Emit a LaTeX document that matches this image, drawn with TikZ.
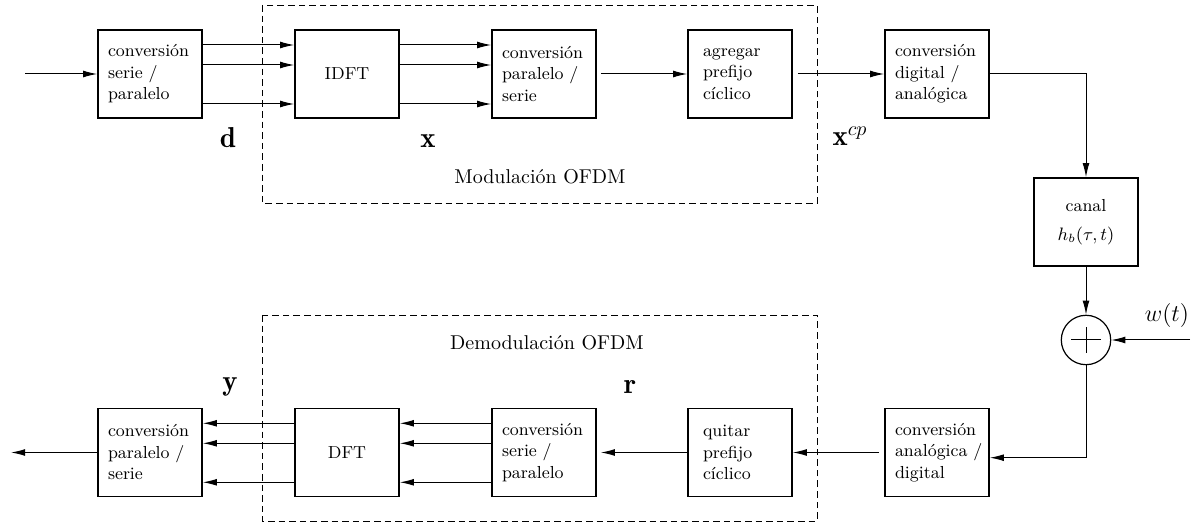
\documentclass[tikz,border=0pt]{standalone}
\usepackage{fontspec}
\usetikzlibrary{arrows.meta}
\begin{document}
\begin{tikzpicture}[x=0.5pt,y=-0.5pt,
  blk/.style={draw, line width=0.8pt, minimum width=52pt, minimum height=44pt,
    inner xsep=5pt, text width=42pt, align=left,
    font=\fontsize{8.7}{10.75}\selectfont},
  blkn/.style={blk, inner xsep=7.5pt, text width=37pt},
  blkc/.style={blk, align=center},
  arr/.style={line width=0.5pt, -{Latex[length=7pt,width=3.4pt]}},
  grp/.style={draw, line width=0.45pt, dash pattern=on 3.3pt off 2pt},
  lbl/.style={font=\Large, inner sep=0pt},
  grplabel/.style={font=\normalsize, inner sep=0pt}]
\useasboundingbox (0,0) rectangle (1198,522);

% modulation / demodulation groups
\draw[grp] (262,5) rectangle (817,203);
\draw[grp] (262,315) rectangle (817,521);
\node[grplabel] (modl) at (540,177) {Modulación OFDM};
\node[grplabel] (demodl) at (547,343) {Demodulación OFDM};

% transmitter
\node[blk]  (sp1)  at (150,74)  {conversión\\serie~/\\paralelo};
\node[blkc] (idft) at (347,74)  {IDFT};
\node[blk]  (ps1)  at (544,74)  {conversión\\paralelo~/\\serie};
\node[blkn] (acp)  at (740,74)  {agregar\\prefijo\\cíclico};
\node[blk]  (da)   at (937,74)  {conversión\\digital~/\\analógica};

% channel and noise
\node[blkc] (canal) at (1086,222) {canal\\[4pt]$h_b(\tau,t)$};
\node[draw, circle, line width=0.6pt, minimum size=24.7pt, inner sep=0pt] (sum) at (1086,340) {};
\draw[line width=0.5pt] ([xshift=-7.5pt]sum.center) -- ([xshift=7.5pt]sum.center);
\draw[line width=0.5pt] ([yshift=-6.5pt]sum.center) -- ([yshift=6.5pt]sum.center);

% receiver
\node[blk]  (ad)   at (937,452.5) {conversión\\analógica~/\\digital};
\node[blkn] (rcp)  at (740,452.5) {quitar\\prefijo\\cíclico};
\node[blk]  (sp2)  at (544,452.5) {conversión\\serie~/\\paralelo};
\node[blkc] (dft)  at (347,452.5) {DFT};
\node[blk]  (ps2)  at (150,452.5) {conversión\\paralelo~/\\serie};

% free ends
\coordinate (in)  at (25,74);
\coordinate (out) at (11,452.5);
\coordinate (win) at (1190,340);

% signal labels
\node[lbl] (ld)  at (228,138) {$\mathbf{d}$};
\node[lbl] (lx)  at (428,141) {$\mathbf{x}$};
\node[lbl] (lxc) at (850,136) {$\mathbf{x}^{cp}$};
\node[lbl, font=\large] (lw)  at (1167,316) {$w(t)$};
\node[lbl] (lr)  at (630,387) {$\mathbf{r}$};
\node[lbl] (ly)  at (230,387) {$\mathbf{y}$};

% transmitter connectors
\draw[arr] (in) -- (sp1.west);
\foreach \s in {14.5pt,4.5pt,-15pt} {
  \draw[arr] ([yshift=\s]sp1.east) -- ([yshift=\s]idft.west);
  \draw[arr] ([yshift=\s]idft.east) -- ([yshift=\s]ps1.west);
}
\draw[arr, shorten <=2pt] (ps1.east) -- (acp.west);
\draw[arr, shorten <=2.5pt] (acp.east) -- (da.west);
\draw[arr] (da.east) -| (canal.north);
\draw[arr] (canal.south) -- (sum.north);
\draw[arr] (win) -- (sum.east);
\draw[arr] (sum.south) |- ([yshift=-2.6pt]ad.east);

% receiver connectors
\draw[arr, shorten <=2.5pt] (ad.west) -- (rcp.east);
\draw[arr, shorten >=2pt] (rcp.west) -- (sp2.east);
\foreach \s in {14.6pt,4.6pt,-14.9pt} {
  \draw[arr] ([yshift=\s]sp2.west) -- ([yshift=\s]dft.east);
  \draw[arr] ([yshift=\s]dft.west) -- ([yshift=\s]ps2.east);
}
\draw[arr] (ps2.west) -- (out);
\end{tikzpicture}
\end{document}
